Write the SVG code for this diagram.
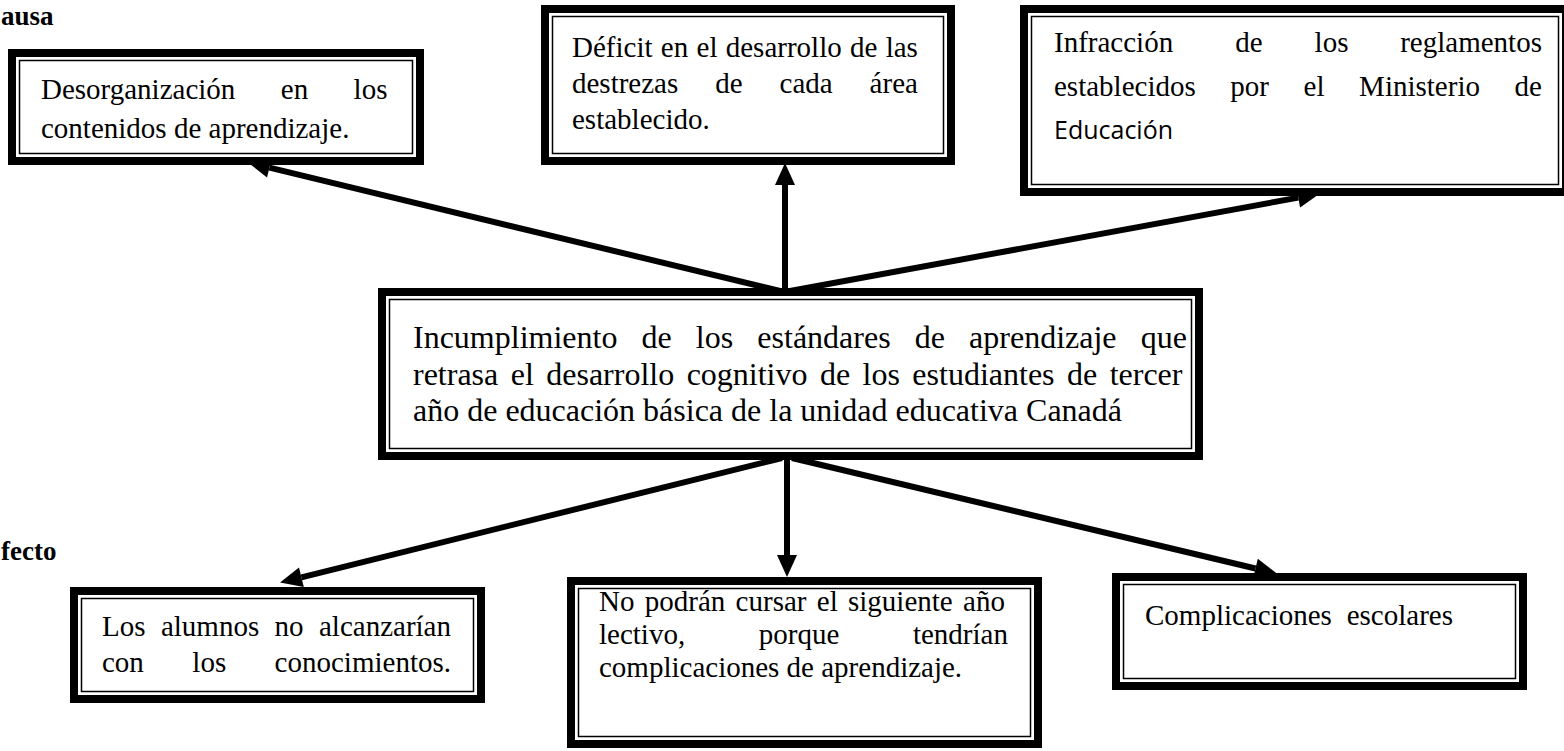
<svg xmlns="http://www.w3.org/2000/svg" width="1564" height="751" viewBox="0 0 1564 751">
<style>
  .thick { fill: #fff; stroke: #000; stroke-width: 8; }
  .thin { fill: none; stroke: #000; stroke-width: 1.5; }
  .t { font-family: "Liberation Serif", "Times New Roman", serif; font-size: 29px; fill: #000; }
  .tc { font-family: "Liberation Serif", "Times New Roman", serif; font-size: 32px; fill: #000; }
  .sans { font-family: "Open Sans", "Liberation Sans", sans-serif; font-size: 25px; fill: #000; }
  .lbl { font-family: "Liberation Serif", "Times New Roman", serif; font-size: 27px; font-weight: bold; fill: #000; }
  .conn { stroke: #000; stroke-width: 6; fill: none; marker-end: url(#ah); }
</style>
<defs>
  <marker id="ah" markerUnits="userSpaceOnUse" markerWidth="22" markerHeight="20" viewBox="0 0 22 20" refX="0" refY="10" orient="auto" overflow="visible">
    <path d="M0,0 L22,10 L0,20 z" fill="#000"/>
  </marker>
</defs>
<rect width="1564" height="751" fill="#fff"/>

<g id="labels">
  <text class="lbl" x="1" y="25">ausa</text>
  <text class="lbl" x="1" y="560">fecto</text>
</g>

<g id="connectors">
  <line class="conn" x1="780" y1="291" x2="269.4" y2="167.7"/>
  <line class="conn" x1="785" y1="291" x2="785" y2="185"/>
  <line class="conn" x1="790" y1="291" x2="1298.3" y2="197.6"/>
  <line class="conn" x1="782" y1="458" x2="301.4" y2="577.3"/>
  <line class="conn" x1="787" y1="458" x2="787" y2="555"/>
  <line class="conn" x1="792" y1="458" x2="1255.5" y2="568.5"/>
</g>

<g id="causa1">
  <rect class="thick" x="12" y="53" width="408" height="108"/>
  <rect class="thin" x="19.5" y="60.5" width="393" height="93"/>
  <text class="t" x="41" y="99" style="word-spacing:38.2px">Desorganización en los</text>
  <text class="t" x="41" y="138">contenidos de aprendizaje.</text>
</g>

<g id="causa2">
  <rect class="thick" x="545" y="9" width="406" height="152"/>
  <rect class="thin" x="552.5" y="16.5" width="391" height="137"/>
  <text class="t" x="572" y="57" style="word-spacing:1.06px">Déficit en el desarrollo de las</text>
  <text class="t" x="572" y="93" style="word-spacing:29.7px">destrezas de cada área</text>
  <text class="t" x="572" y="129">establecido.</text>
</g>

<g id="causa3">
  <rect class="thick" x="1024" y="9" width="542" height="183"/>
  <rect class="thin" x="1031.5" y="16.5" width="527" height="168"/>
  <text class="t" y="52"><tspan x="1054">Infracción</tspan><tspan x="1235.2">de</tspan><tspan x="1314.6">los</tspan><tspan x="1400.2">reglamentos</tspan></text>
  <text class="t" x="1054" y="96" style="word-spacing:27.35px">establecidos por el Ministerio de</text>
  <text class="sans" x="1054" y="139">Educación</text>
</g>

<g id="problema">
  <rect class="thick" x="382" y="292" width="817" height="164"/>
  <rect class="thin" x="389.5" y="299.5" width="802" height="149"/>
  <text class="tc" x="413" y="348" style="word-spacing:16.13px">Incumplimiento de los estándares de aprendizaje que</text>
  <text class="tc" x="413" y="385" style="word-spacing:4.44px">retrasa el desarrollo cognitivo de los estudiantes de tercer</text>
  <text class="tc" x="413" y="421">año de educación básica de la unidad educativa Canadá</text>
</g>

<g id="efecto1">
  <rect class="thick" x="74" y="591" width="407" height="108"/>
  <rect class="thin" x="81.5" y="598.5" width="392" height="93"/>
  <text class="t" x="102" y="636" style="word-spacing:8.15px">Los alumnos no alcanzarían</text>
  <text class="t" x="102" y="672" style="word-spacing:41.2px">con los conocimientos.</text>
</g>

<g id="efecto2">
  <rect class="thick" x="571" y="581" width="467" height="163"/>
  <rect class="thin" x="578.5" y="588.5" width="452" height="148"/>
  <text class="t" x="599" y="611" style="word-spacing:3.07px">No podrán cursar el siguiente año</text>
  <text class="t" x="599" y="644" style="word-spacing:66.35px">lectivo, porque tendrían</text>
  <text class="t" x="599" y="677">complicaciones de aprendizaje.</text>
</g>

<g id="efecto3">
  <rect class="thick" x="1116" y="577" width="407" height="109"/>
  <rect class="thin" x="1123.5" y="584.5" width="392" height="94"/>
  <text class="t" y="625"><tspan x="1145">Complicaciones</tspan><tspan x="1346.7">escolares</tspan></text>
</g>
</svg>
